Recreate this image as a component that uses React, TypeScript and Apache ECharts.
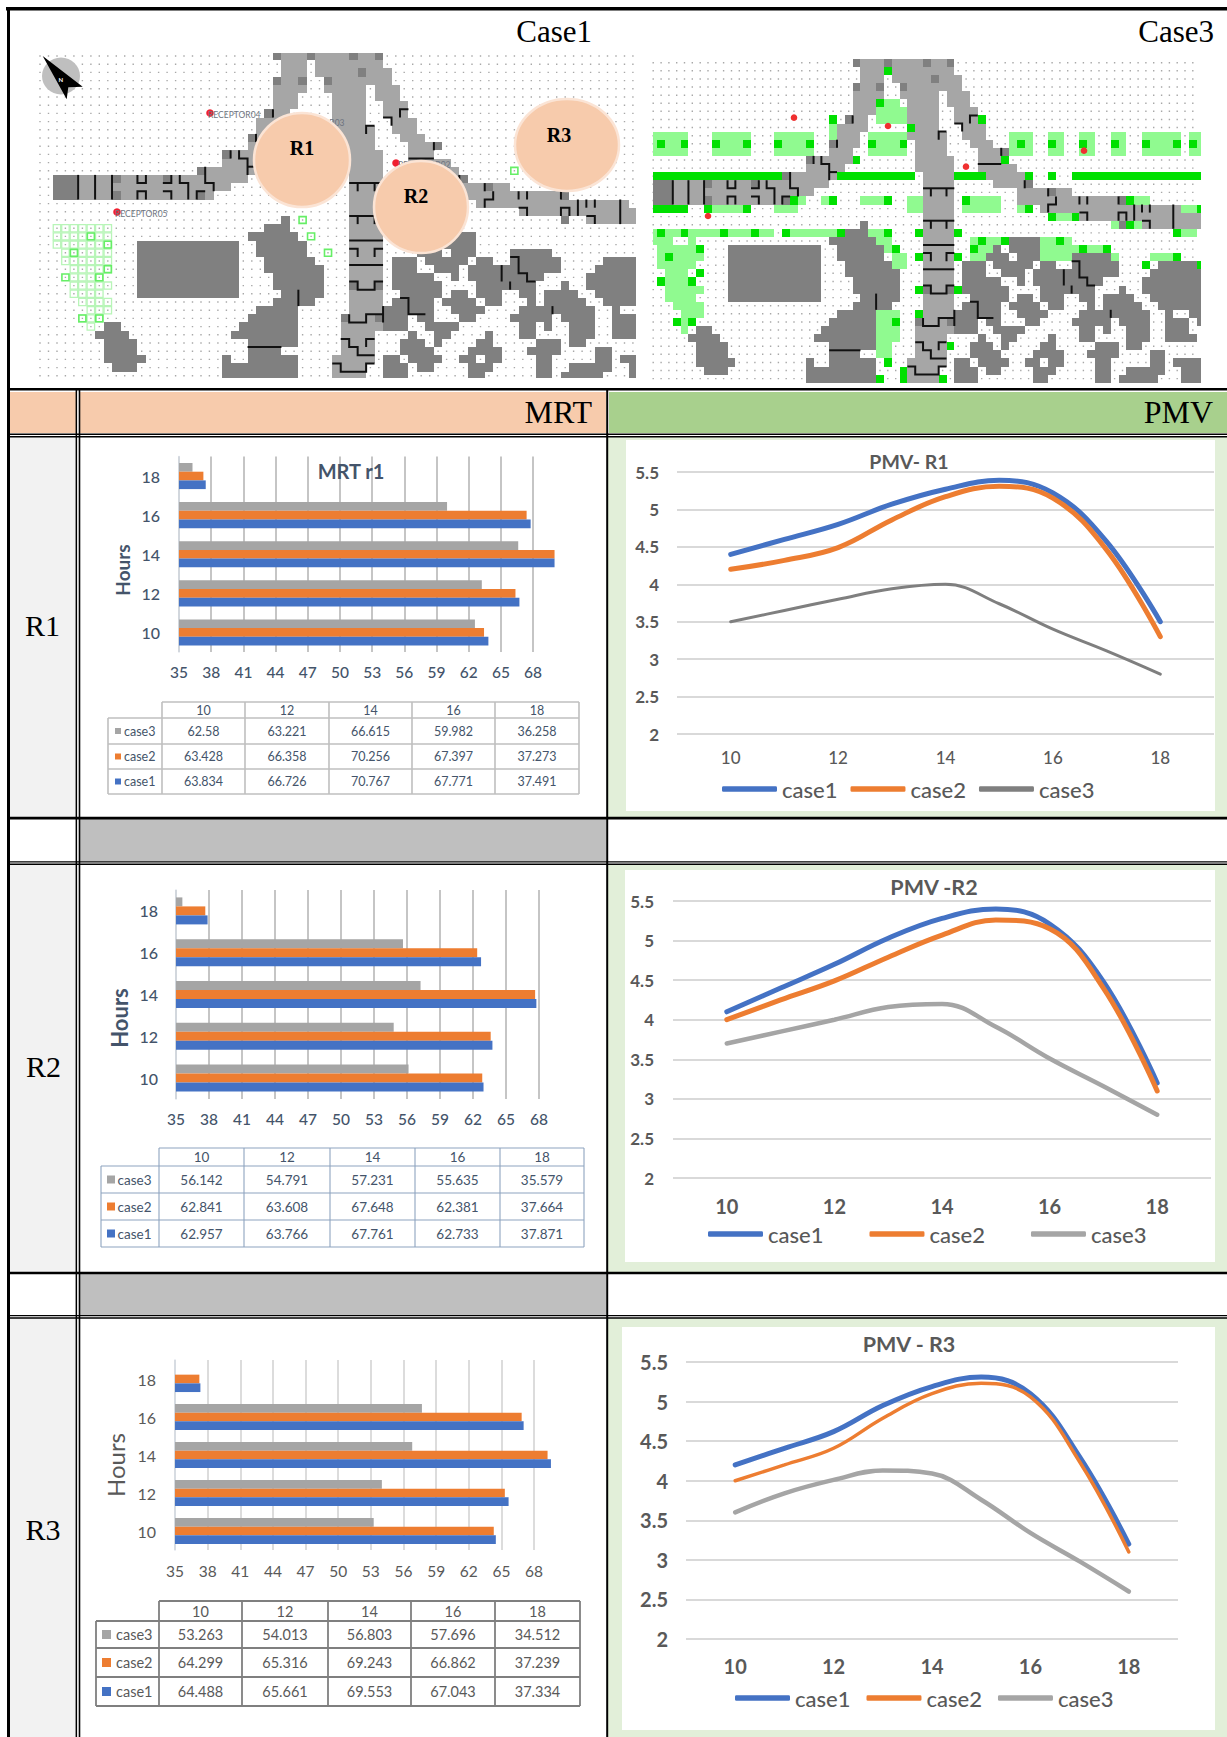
import React, { useEffect, useRef } from "react";
import * as echarts from "echarts";

const W = 1227;
const H = 1737;
const hours = ["10", "12", "14", "16", "18"];
const pmvHours = [10, 11, 12, 13, 14, 15, 16, 17, 18];
const pmvTicks = [10, 12, 14, 16, 18];
const caseNames = ["case1", "case2", "case3"];
const xTicks = [35, 38, 41, 44, 47, 50, 53, 56, 59, 62, 65, 68];

const mrtR1case1 = [63.834, 66.726, 70.767, 67.771, 37.491];
const mrtR1case2 = [63.428, 66.358, 70.256, 67.397, 37.273];
const mrtR1case3 = [62.58, 63.221, 66.615, 59.982, 36.258];
const mrtR2case1 = [62.957, 63.766, 67.761, 62.733, 37.871];
const mrtR2case2 = [62.841, 63.608, 67.648, 62.381, 37.664];
const mrtR2case3 = [56.142, 54.791, 57.231, 55.635, 35.579];
const mrtR3case1 = [64.488, 65.661, 69.553, 67.043, 37.334];
const mrtR3case2 = [64.299, 65.316, 69.243, 66.862, 37.239];
const mrtR3case3 = [53.263, 54.013, 56.803, 57.696, 34.512];

const pmvR1case1 = [4.4, 4.6, 4.8, 5.07, 5.27, 5.39, 5.22, 4.57, 3.5];
const pmvR1case2 = [4.2, 4.32, 4.49, 4.86, 5.17, 5.31, 5.15, 4.46, 3.3];
const pmvR1case3 = [3.5, 3.65, 3.8, 3.94, 4.0, 3.74, 3.4, 3.11, 2.8];
const pmvR2case1 = [4.1, 4.4, 4.7, 5.03, 5.28, 5.4, 5.21, 4.48, 3.2];
const pmvR2case2 = [4.0, 4.25, 4.49, 4.79, 5.07, 5.26, 5.15, 4.4, 3.1];
const pmvR2case3 = [3.7, 3.85, 4.0, 4.16, 4.2, 3.91, 3.51, 3.16, 2.8];
const pmvR3case1 = [4.2, 4.41, 4.62, 4.95, 5.19, 5.31, 5.1, 4.3, 3.2];
const pmvR3case2 = [4.0, 4.2, 4.41, 4.79, 5.1, 5.23, 5.06, 4.24, 3.1];
const pmvR3case3 = [3.6, 3.84, 4.01, 4.13, 4.09, 3.76, 3.34, 2.98, 2.6];

const BLUE = "#4472C4";
const ORANGE = "#ED7D31";
const GREY = "#A5A5A5";
const serif = "'Liberation Serif', serif";
const sans = "Lato, 'Open Sans', sans-serif";

// Base map of the site: per row, inclusive [from, to] column runs
const roadRows: number[][] = [
  [28, 40], [29, 31, 33, 40], [29, 31, 33, 41], [28, 31, 34, 41], [28, 31, 34, 38, 40, 42],
  [28, 30, 35, 38, 40, 42], [28, 30, 35, 38, 41, 43], [27, 29, 35, 38, 41, 43], [26, 29, 35, 38, 42, 44],
  [26, 28, 35, 39, 42, 44], [25, 28, 36, 39, 43, 45], [25, 27, 36, 39, 44, 47], [22, 27, 36, 40, 44, 46],
  [22, 26, 36, 40, 44, 48], [19, 25, 37, 40, 45, 49], [2, 24, 37, 40, 46, 50], [2, 22, 37, 40, 49, 55],
  [2, 20, 37, 40, 49, 62], [37, 40, 52, 69], [37, 40, 57, 72], [37, 40, 65, 72],
  [37, 40], [37, 40], [37, 40], [37, 40], [37, 40], [37, 40], [37, 40], [37, 40], [37, 40], [37, 40], [37, 40],
  [36, 40], [36, 40], [36, 39], [36, 39], [36, 39], [35, 39], [35, 38], [35, 38],
];
const buildingRows: Record<number, number[]> = {
  20: [29, 29],
  21: [27, 29],
  22: [25, 30, 48, 51],
  23: [12, 23, 26, 31, 46, 46, 48, 51],
  24: [12, 23, 26, 31, 45, 47, 49, 51, 56, 60],
  25: [12, 23, 27, 32, 42, 44, 46, 50, 52, 53, 56, 61, 67, 72],
  26: [12, 23, 27, 33, 42, 44, 47, 49, 51, 61, 66, 72],
  27: [12, 23, 28, 33, 42, 46, 49, 49, 51, 59, 65, 72],
  28: [12, 23, 28, 33, 42, 47, 52, 58, 62, 62, 65, 72],
  29: [12, 23, 29, 33, 43, 47, 49, 50, 52, 54, 57, 58, 60, 63, 66, 72],
  30: [28, 32, 42, 46, 48, 51, 53, 54, 58, 58, 60, 64, 67, 72],
  31: [26, 30, 41, 46, 49, 52, 57, 65, 68, 68, 71, 72],
  32: [25, 30, 41, 43, 45, 46, 50, 51, 56, 60, 62, 65, 68, 70, 72, 72],
  33: [8, 9, 24, 30, 41, 43, 46, 49, 57, 58, 60, 60, 63, 65, 68, 70],
  34: [7, 10, 23, 30, 44, 44, 47, 48, 53, 53, 57, 58, 63, 65, 68, 71],
  35: [8, 11, 25, 30, 43, 45, 47, 47, 52, 53, 59, 61, 63, 64],
  36: [8, 11, 25, 28, 43, 46, 51, 54, 58, 61, 66, 67],
  37: [8, 12, 22, 22, 25, 30, 41, 42, 44, 47, 50, 51, 53, 54, 59, 60, 66, 67, 69, 72],
  38: [9, 11, 22, 30, 41, 43, 45, 46, 51, 53, 59, 60, 63, 67, 70, 72],
  39: [22, 30, 41, 43, 51, 52, 59, 60, 62, 66, 70, 72],
};
// [col0, col1, row0, row1]
const darkRects: number[][] = [
  [2, 4, 15, 17], [28, 28, 0, 0], [32, 32, 0, 0], [37, 37, 0, 0], [40, 40, 0, 0], [38, 38, 2, 2], [28, 28, 3, 3],
  [31, 31, 3, 3], [34, 34, 3, 3], [27, 27, 7, 7], [25, 25, 10, 10], [22, 22, 12, 12], [19, 19, 14, 14], [9, 9, 15, 15],
  [15, 15, 15, 15], [9, 9, 17, 17], [19, 19, 17, 17], [47, 47, 11, 11], [50, 50, 15, 15], [53, 53, 16, 16],
  [62, 62, 17, 17], [62, 62, 20, 20], [36, 36, 32, 32], [40, 40, 32, 32], [37, 37, 28, 28], [40, 40, 28, 28],
];
const wallLines: number[][][] = [
  [[5, 15], [5, 18]], [[7, 15], [7, 18]], [[9, 15], [9, 18]], [[12, 15], [12, 16], [13, 16], [13, 15]],
  [[12, 18], [12, 17], [13, 17], [13, 18]], [[16, 15], [16, 16], [15, 16]], [[15, 17], [16, 17], [16, 18]],
  [[17, 15], [17, 16], [18, 16], [18, 18]], [[20, 14], [20, 16], [21, 16], [21, 17]], [[20, 17], [19, 17], [19, 18]],
  [[23, 12], [23, 13]], [[24, 12], [24, 13], [25, 13], [25, 15]], [[25, 14], [26, 14]], [[26, 10], [26, 11]], [[28, 7], [28, 8]],
  [[43, 8], [43, 7], [44, 7]], [[41, 8], [42, 8], [42, 9]], [[40, 9], [39, 9], [39, 10]], [[47, 11], [47, 12]], [[44, 13], [47, 13]],
  [[37, 16], [41, 16]], [[38, 16], [38, 17]], [[40, 16], [40, 17]], [[37, 20], [41, 20]], [[38, 20], [38, 21]], [[40, 20], [40, 21]],
  [[50, 15], [50, 16]], [[53, 16], [53, 17]], [[54, 17], [54, 18], [53, 18], [53, 19]], [[57, 17], [57, 18]], [[58, 17], [58, 18]],
  [[57, 19], [58, 19], [58, 20]], [[62, 17], [62, 18]], [[62, 20], [62, 19], [63, 19], [63, 20]], [[64, 18], [64, 20]],
  [[65, 18], [65, 19]], [[66, 18], [66, 19]], [[65, 20], [66, 20], [66, 21]], [[69, 18], [69, 21]],
  [[37, 23], [41, 23]], [[37, 24], [38, 24], [38, 25]], [[41, 24], [40, 24], [40, 25]], [[37, 26], [41, 26]],
  [[37, 28], [38, 28], [38, 29], [40, 29], [40, 28], [41, 28]], [[41, 31], [41, 33]], [[37, 32], [37, 33], [39, 33], [39, 32], [41, 32]],
  [[36, 35], [37, 35], [37, 36], [38, 36], [38, 37], [40, 37]], [[40, 35], [39, 35], [39, 36]],
  [[35, 38], [36, 38], [36, 39], [39, 39], [39, 38], [40, 38]], [[43, 30], [44, 30], [44, 32], [46, 32]],
  [[56, 25], [57, 25], [57, 27], [58, 27], [58, 28], [59, 28]], [[55, 26], [55, 28]], [[56, 28], [56, 29]], [[61, 31], [61, 32]],
  [[31, 29], [31, 31]], [[25, 36], [29, 36]],
];
// Case 1 planting: light outline cells per row [row, col0, col1]
const case1Outline: number[][] = [
  [21, 2, 8], [22, 2, 8], [23, 2, 8], [24, 3, 8], [25, 3, 8], [26, 4, 8], [27, 4, 7], [28, 4, 8], [29, 4, 7], [30, 5, 8], [31, 6, 8], [32, 5, 7], [33, 6, 6],
];
const case1Strong: number[][] = [
  [6, 22], [8, 23], [4, 24], [8, 26], [3, 27], [7, 27], [5, 32], [7, 32], [31, 20], [32, 22], [34, 24], [56, 14],
];
// Case 3 planting: [col0, col1, row0, row1]
const case3Light: number[][] = [
  [2, 6, 9, 11], [10, 14, 9, 11], [18, 22, 9, 11], [30, 34, 9, 11], [48, 50, 9, 11], [53, 54, 9, 11], [57, 58, 9, 11], [61, 62, 9, 11], [65, 69, 9, 11], [71, 72, 9, 11],
  [32, 33, 5, 5], [31, 34, 6, 7], [25, 25, 8, 10], [21, 21, 17, 17], [24, 25, 17, 17], [29, 32, 17, 17], [35, 36, 17, 18], [42, 46, 17, 18], [49, 49, 18, 18], [10, 13, 18, 18],
  [18, 20, 18, 18], [54, 55, 19, 19], [61, 65, 20, 20], [63, 65, 17, 17], [70, 72, 18, 18], [2, 17, 21, 21], [19, 25, 21, 21], [30, 32, 21, 21], [70, 71, 21, 21],
  [2, 4, 22, 22], [7, 7, 22, 22], [31, 32, 22, 22], [3, 8, 23, 24], [32, 33, 23, 23], [33, 34, 24, 25], [3, 7, 25, 25], [4, 6, 26, 27], [4, 8, 28, 28], [4, 7, 29, 29], [5, 8, 30, 30], [6, 8, 31, 31], [6, 6, 32, 33],
  [31, 33, 31, 34], [31, 32, 35, 36], [43, 47, 22, 22], [43, 45, 23, 23], [43, 44, 24, 24], [52, 55, 22, 22], [52, 60, 23, 23], [52, 55, 24, 24], [61, 61, 24, 24], [66, 69, 24, 24], [71, 72, 25, 26],
];
const case3Bright: number[][] = [
  [3, 3, 10, 10], [6, 6, 10, 10], [10, 10, 10, 10], [14, 14, 10, 10], [18, 18, 10, 10], [22, 22, 10, 10], [30, 30, 10, 10], [34, 34, 10, 10], [49, 49, 10, 10], [53, 53, 10, 10], [57, 57, 10, 10], [61, 61, 10, 10], [65, 65, 10, 10], [69, 69, 10, 10], [71, 71, 10, 10],
  [32, 32, 1, 1], [31, 31, 5, 5], [25, 25, 7, 7], [35, 35, 8, 8], [44, 44, 7, 7], [28, 28, 12, 12], [47, 47, 12, 12],
  [2, 18, 14, 14], [26, 35, 14, 14], [41, 44, 14, 14], [50, 50, 14, 14], [53, 53, 14, 14], [56, 72, 14, 14],
  [20, 20, 17, 17], [25, 25, 17, 17], [32, 32, 17, 17], [42, 42, 17, 17], [63, 63, 17, 17], [2, 6, 18, 18], [9, 9, 18, 18], [14, 14, 18, 18], [50, 50, 18, 18], [72, 72, 18, 18], [53, 53, 19, 19], [56, 56, 19, 19], [63, 63, 20, 20],
  [3, 3, 21, 21], [6, 6, 21, 21], [11, 11, 21, 21], [15, 15, 21, 21], [19, 19, 21, 21], [26, 26, 21, 21], [32, 32, 21, 21], [36, 36, 21, 21], [41, 41, 21, 21], [69, 69, 21, 21],
  [44, 44, 22, 22], [47, 47, 22, 22], [54, 54, 22, 22], [8, 8, 23, 23], [33, 33, 23, 23], [43, 43, 23, 23], [57, 57, 23, 23], [60, 60, 23, 23], [4, 4, 24, 24], [36, 36, 24, 24], [41, 41, 24, 24], [69, 69, 24, 24], [65, 65, 25, 25], [72, 72, 25, 25],
  [8, 8, 26, 26], [3, 3, 27, 27], [7, 7, 27, 27], [36, 36, 28, 28], [41, 41, 28, 28], [36, 36, 31, 31], [5, 5, 32, 32], [7, 7, 32, 32], [33, 33, 32, 32], [40, 40, 35, 35], [32, 32, 37, 37], [34, 34, 38, 39], [31, 31, 39, 39], [39, 39, 39, 39],
];
const case1Markers = [[210, 113], [117, 212], [396, 163], [300, 122]];
const case3Markers = [[794, 117.7], [888, 126], [966, 166.7], [1084, 150.7], [708, 216]];
const case1Receptors = [
  { text: "RECEPTOR04", x: 208, y: 115 },
  { text: "RECEPTOR05", x: 115, y: 214 },
  { text: "RECEPTOR02", x: 398, y: 165 },
  { text: "RECEPTOR03", x: 292, y: 123 },
];
const zones = [
  { text: "R1", cx: 302, cy: 160, rx: 48, ry: 47, tx: 302, ty: 148 },
  { text: "R2", cx: 421, cy: 207, rx: 47, ry: 46, tx: 416, ty: 196 },
  { text: "R3", cx: 567, cy: 145, rx: 52, ry: 46, tx: 559, ty: 135 },
];

type View = { x0: number; y0: number; cw: number; ch: number; minX: number; maxX: number; minY: number; maxY: number };
const viewCase1: View = { x0: 35.8, y0: 51.9, cw: 8.47, ch: 8.2, minX: 36, maxX: 636, minY: 53, maxY: 378 };
const viewCase3: View = { x0: 633.7, y0: 58.7, cw: 7.82, ch: 8.1, minX: 653, maxX: 1201, minY: 57.3, maxY: 384.3 };

const Z_BG = -30;
function rect(x: number, y: number, w: number, h: number, fill: string, z = Z_BG) {
  return { type: "rect", silent: true, z, shape: { x, y, width: w, height: h }, style: { fill } };
}
function text(t: string, x: number, y: number, font: string, fill: string, align = "center", rotation = 0, z = Z_BG + 12) {
  return {
    type: "text", silent: true, z, x, y, rotation,
    style: { text: t, font, fill, align, verticalAlign: "middle", textAlign: align, textVerticalAlign: "middle" },
  };
}
function cellRect(v: View, c0: number, c1: number, r0: number, r1: number, fill: string, z: number) {
  const x0 = Math.round(Math.max(v.x0 + c0 * v.cw, v.minX));
  const x1 = Math.round(Math.min(v.x0 + (c1 + 1) * v.cw, v.maxX));
  const y0 = Math.round(Math.max(v.y0 + r0 * v.ch, v.minY));
  const y1 = Math.round(Math.min(v.y0 + (r1 + 1) * v.ch, v.maxY));
  if (x1 <= x0 || y1 <= y0) return null;
  return rect(x0, y0, x1 - x0, y1 - y0, fill, z);
}

function dotsPath(v: View) {
  let d = "";
  for (let r = 0; r < 40; r++) {
    for (let c = 0; c < 74; c++) {
      const x = v.x0 + (c + 0.5) * v.cw;
      const y = v.y0 + (r + 0.5) * v.ch;
      if (x < v.minX || x > v.maxX - 0.5 || y < v.minY || y > v.maxY) continue;
      d += `M${(x - 0.7).toFixed(1)} ${(y - 0.7).toFixed(1)}h1.4v1.4h-1.4z`;
    }
  }
  return d;
}

function mapLayer(v: View, name: string) {
  const out: any[] = [];
  echarts.graphic.registerShape(name, echarts.graphic.extendPath(dotsPath(v), {}));
  out.push({ type: name, silent: true, z: Z_BG + 2, style: { fill: "#A8A8A8" } });
  const add = (e: any) => { if (e) out.push(e); };
  if (v === viewCase3) case3Light.forEach(([a, b, c, d]) => add(cellRect(v, a, b, c, d, "#90FA90", Z_BG + 3)));
  roadRows.forEach((runs, r) => {
    for (let i = 0; i < runs.length; i += 2) add(cellRect(v, runs[i], runs[i + 1], r, r, "#A6A6A6", Z_BG + 4));
  });
  darkRects.forEach(([a, b, c, d]) => add(cellRect(v, a, b, c, d, "#808080", Z_BG + 5)));
  Object.keys(buildingRows).forEach((k) => {
    const r = Number(k);
    const runs = buildingRows[r];
    for (let i = 0; i < runs.length; i += 2) add(cellRect(v, runs[i], runs[i + 1], r, r, "#808080", Z_BG + 5));
  });
  if (v === viewCase3) case3Bright.forEach(([a, b, c, d]) => add(cellRect(v, a, b, c, d, "#00E000", Z_BG + 6)));
  wallLines.forEach((pts) => {
    if (pts.some(([c]) => v.x0 + c * v.cw < v.minX || v.x0 + c * v.cw > v.maxX)) return;
    out.push({
      type: "polyline", silent: true, z: Z_BG + 7,
      shape: { points: pts.map(([c, r]) => [v.x0 + c * v.cw, v.y0 + r * v.ch]) },
      style: { stroke: "#111111", lineWidth: 2, fill: null },
    });
  });
  return out;
}

function case1Overlays() {
  const v = viewCase1;
  const out: any[] = [];
  case1Outline.forEach(([r, a, b]) => {
    for (let c = a; c <= b; c++) {
      out.push({
        type: "rect", silent: true, z: Z_BG + 3,
        shape: { x: v.x0 + c * v.cw + 0.5, y: v.y0 + r * v.ch + 0.5, width: v.cw - 1, height: v.ch - 1 },
        style: { fill: "rgba(255,255,255,0)", stroke: "#B8F5B8", lineWidth: 1.3 },
      });
    }
  });
  case1Strong.forEach(([c, r]) => {
    out.push({
      type: "rect", silent: true, z: Z_BG + 6,
      shape: { x: v.x0 + c * v.cw + 0.7, y: v.y0 + r * v.ch + 0.7, width: v.cw - 1.4, height: v.ch - 1.4 },
      style: { fill: "rgba(255,255,255,0)", stroke: "#66EE66", lineWidth: 1.6 },
    });
  });
  case1Markers.forEach(([x, y]) => out.push({ type: "circle", silent: true, z: Z_BG + 7, shape: { cx: x, cy: y, r: 3.8 }, style: { fill: "#F02030" } }));
  case1Receptors.forEach((p) => out.push(text(p.text, p.x, p.y, `8.5px ${sans}`, "#6E7480", "left", 0, Z_BG + 8)));
  zones.forEach((zn) => {
    out.push({ type: "ellipse", silent: true, z: Z_BG + 9, shape: { cx: zn.cx, cy: zn.cy, rx: zn.rx, ry: zn.ry }, style: { fill: "#F7CBAC", stroke: "#FBE4D5", lineWidth: 2.5 } });
    out.push(text(zn.text, zn.tx, zn.ty, `bold 20px ${serif}`, "#000000", "center", 0, Z_BG + 10));
  });
  out.push({ type: "ellipse", silent: true, z: Z_BG + 8, shape: { cx: 61, cy: 76, rx: 19, ry: 18.5 }, style: { fill: "#BFBFBF" } });
  out.push({
    type: "polygon", silent: true, z: Z_BG + 9,
    shape: { points: [[42.7, 56], [82.7, 86.7], [68.3, 87.3], [66.7, 99.3]] }, style: { fill: "#000000" },
  });
  out.push(text("N", 60.7, 79, `bold 6px ${sans}`, "#FFFFFF", "center", 0, Z_BG + 10));
  return out;
}
function case3Overlays() {
  return case3Markers.map(([x, y]) => ({ type: "circle", silent: true, z: Z_BG + 8, shape: { cx: x, cy: y, r: 3.3 }, style: { fill: "#F03030" } }));
}

function frame() {
  const out: any[] = [];
  const k = "#000000";
  // fills
  out.push(rect(10, 392, 66, 41, "#F7CBAC"), rect(80, 392, 526, 41, "#F7CBAC"), rect(609, 392, 618, 41, "#A8D08D"));
  [[437, 817], [865, 1272], [1318, 1737]].forEach(([a, b]) => out.push(rect(10, a, 66, b - a, "#F2F2F2")));
  out.push(rect(80, 819, 526, 42, "#BFBFBF"), rect(80, 1274, 526, 41, "#BFBFBF"));
  // right-hand panels
  [[437, 817, 626, 440, 589, 371], [865, 1272, 625, 870, 590, 392], [1318, 1737, 622, 1327, 593, 403]].forEach(([a, b, x, y, w, h]) => {
    out.push(rect(608, a, W - 608, b - a, "#E2EFD9"), rect(x, y, w, h, "#FFFFFF", Z_BG + 1));
  });
  // rules
  const L = Z_BG + 11;
  out.push(rect(6, 7, W - 6, 3.5, k, L), rect(7, 7, 3, H - 7, k, L));
  out.push(rect(7, 388, W - 7, 2.6, k, L));
  out.push(rect(7, 433.5, W - 7, 1.5, k, L), rect(7, 436, W - 7, 1.5, k, L));
  out.push(rect(7, 816.8, W - 7, 2.6, k, L));
  out.push(rect(7, 861.2, W - 7, 1.3, k, L), rect(7, 863.5, W - 7, 1.5, k, L));
  out.push(rect(7, 1271.8, W - 7, 2.4, k, L));
  out.push(rect(7, 1315, W - 7, 1.3, k, L), rect(7, 1317.2, W - 7, 1.5, k, L));
  out.push(rect(75.6, 388, 1.5, H - 388, k, L), rect(78.7, 388, 1.6, H - 388, k, L));
  out.push(rect(606.2, 388, 2, H - 388, k, L));
  // headings
  out.push(text("Case1", 592, 31, `31px ${serif}`, "#000", "right"), text("Case3", 1214, 31, `31px ${serif}`, "#000", "right"));
  out.push(text("MRT", 592, 412, `32px ${serif}`, "#000", "right"), text("PMV", 1213, 412, `32px ${serif}`, "#000", "right"));
  out.push(text("R1", 42.5, 625, `30px ${serif}`, "#000"), text("R2", 43.5, 1066, `30px ${serif}`, "#000"), text("R3", 43, 1529, `30px ${serif}`, "#000"));
  return out;
}

type Tbl = {
  xs: number[]; ys: number[]; color: string; lw: number; font: string; tc: string;
  left: number; iconX: number; iconS: number; labelX: number; vals: number[][];
};
const tableR1: Tbl = { xs: [162, 245, 329, 412, 495, 579], ys: [702, 718, 744, 769, 794], color: "#BFBFBF", lw: 1.6, font: `12.5px ${sans}`, tc: "#44546A", left: 108, iconX: 115, iconS: 6, labelX: 124, vals: [mrtR1case3, mrtR1case2, mrtR1case1] };
const tableR2: Tbl = { xs: [159, 244, 330, 415, 500, 584], ys: [1148, 1166, 1193, 1220, 1247], color: "#8EA4BF", lw: 1.1, font: `13.5px ${sans}`, tc: "#44546A", left: 101, iconX: 107, iconS: 8, labelX: 117.5, vals: [mrtR2case3, mrtR2case2, mrtR2case1] };
const tableR3: Tbl = { xs: [159, 242, 328, 411, 495, 580], ys: [1601, 1621, 1648, 1677, 1706], color: "#7F7F7F", lw: 1.8, font: `14.5px ${sans}`, tc: "#595959", left: 96, iconX: 102, iconS: 9, labelX: 116, vals: [mrtR3case3, mrtR3case2, mrtR3case1] };

function dataTable(t: Tbl) {
  const out: any[] = [];
  const z = Z_BG + 12;
  const line = (x1: number, y1: number, x2: number, y2: number) =>
    out.push({ type: "line", silent: true, z, shape: { x1, y1, x2, y2 }, style: { stroke: t.color, lineWidth: t.lw } });
  const last = t.xs[t.xs.length - 1];
  t.ys.forEach((y, i) => line(i === 0 ? t.xs[0] : t.left, y, last, y));
  t.xs.forEach((x) => line(x, t.ys[0], x, t.ys[t.ys.length - 1]));
  line(t.left, t.ys[1], t.left, t.ys[t.ys.length - 1]);
  hours.forEach((h, i) => out.push(text(h, (t.xs[i] + t.xs[i + 1]) / 2, (t.ys[0] + t.ys[1]) / 2, t.font, t.tc)));
  const colors = [GREY, ORANGE, BLUE];
  const names = [caseNames[2], caseNames[1], caseNames[0]];
  t.vals.forEach((row, r) => {
    const y = (t.ys[r + 1] + t.ys[r + 2]) / 2;
    out.push(rect(t.iconX, y - t.iconS / 2, t.iconS, t.iconS, colors[r], z));
    out.push(text(names[r], t.labelX, y, t.font, t.tc, "left"));
    row.forEach((v, i) => out.push(text(String(v), (t.xs[i] + t.xs[i + 1]) / 2, y, t.font, t.tc)));
  });
  return out;
}

type BarCfg = { left: number; unit: number; top: number; bottom: number; values: number[][]; barW: number; grid: string; gridW: number; tc: string; fs: number; weight: string; margin: number; lm: number };
const barCfgs: BarCfg[] = [
  { left: 179, unit: 10.73, top: 456.5, bottom: 652, values: [mrtR1case1, mrtR1case2, mrtR1case3], barW: 8.7, grid: "#BFBFBF", gridW: 1.8, tc: "#44546A", fs: 16, weight: "500", margin: 12, lm: 19 },
  { left: 176, unit: 11, top: 890, bottom: 1099, values: [mrtR2case1, mrtR2case2, mrtR2case3], barW: 9, grid: "#BFBFBF", gridW: 1.8, tc: "#44546A", fs: 16, weight: "500", margin: 12, lm: 18 },
  { left: 175, unit: 10.88, top: 1360, bottom: 1550, values: [mrtR3case1, mrtR3case2, mrtR3case3], barW: 8.7, grid: "#D9D9D9", gridW: 1.8, tc: "#595959", fs: 16, weight: "400", margin: 13, lm: 19 },
];
type LineCfg = {
  left: number; right: number; top: number; bottom: number; values: number[][]; widths: number[]; gray: string;
  fs: number; xfs: number; xm: number; ym: number; lLeft: number; lY: number; lGap: number;
};
const lineCfgs: LineCfg[] = [
  { left: 677, right: 1214, top: 472, bottom: 734, values: [pmvR1case1, pmvR1case2, pmvR1case3], widths: [5, 5, 3], gray: "#7F7F7F", fs: 17, xfs: 17, xm: 15, ym: 18, lLeft: 722, lY: 789, lGap: 13 },
  { left: 673, right: 1211, top: 901, bottom: 1178, values: [pmvR2case1, pmvR2case2, pmvR2case3], widths: [5, 5, 4.5], gray: "#A5A5A5", fs: 17, xfs: 20, xm: 18, ym: 19, lLeft: 708, lY: 1234, lGap: 46 },
  { left: 686, right: 1178, top: 1362, bottom: 1639, values: [pmvR3case1, pmvR3case2, pmvR3case3], widths: [5, 3.5, 4.5], gray: "#A5A5A5", fs: 20, xfs: 20, xm: 17, ym: 18, lLeft: 735, lY: 1698, lGap: 16 },
];
const titles = [
  { text: "MRT r1", x: 346, y: 466, fs: 20, c: "#44546A" },
  { text: "PMV- R1", x: 904, y: 456, fs: 19.5, c: "#595959" },
  { text: "PMV -R2", x: 929, y: 882, fs: 21.5, c: "#595959" },
  { text: "PMV - R3", x: 904, y: 1339, fs: 21.5, c: "#595959" },
];
const hoursLabels = [
  { x: 122, y: 570, font: `bold 19px ${sans}`, c: "#44546A" },
  { x: 119, y: 1018, font: `bold 22px ${sans}`, c: "#44546A" },
  { x: 115, y: 1465, font: `24px ${sans}`, c: "#595959" },
];

function buildOption() {
  const grid: any[] = [];
  const xAxis: any[] = [];
  const yAxis: any[] = [];
  const series: any[] = [];
  const colors = [BLUE, ORANGE, GREY];
  const noTip = { silent: true };

  barCfgs.forEach((b, i) => {
    grid.push({ left: b.left, width: b.unit * 35, top: b.top, height: b.bottom - b.top });
    xAxis.push({
      type: "value", gridIndex: i, min: 35, max: 70,
      axisLine: { show: false }, axisTick: { show: false, customValues: xTicks },
      axisLabel: { customValues: xTicks, color: b.tc, fontSize: b.fs - 0.5, fontFamily: sans, fontWeight: b.weight, margin: b.margin },
      splitLine: { show: true, lineStyle: { color: b.grid, width: b.gridW } },
    });
    yAxis.push({
      type: "category", gridIndex: i, data: hours,
      axisLine: { show: true, lineStyle: { color: "#D6DCE5", width: 1.5 } }, axisTick: { show: false },
      axisLabel: { color: b.tc, fontSize: b.fs, fontFamily: sans, fontWeight: b.weight, margin: b.lm, padding: [0, 0, 3, 0] },
      splitLine: { show: false },
    });
    // ECharts stacks the first series of a horizontal group on top: case3 goes first.
    [2, 1, 0].forEach((s) => {
      series.push({
        ...noTip, type: "bar", name: caseNames[s], xAxisIndex: i, yAxisIndex: i, data: b.values[s],
        barWidth: b.barW, barGap: "0%", itemStyle: { color: colors[s] },
      });
    });
  });
  lineCfgs.forEach((l, j) => {
    const i = j + barCfgs.length;
    grid.push({ left: l.left, width: l.right - l.left, top: l.top, height: l.bottom - l.top });
    xAxis.push({
      type: "value", gridIndex: i, min: 9, max: 19, interval: 1,
      axisLine: { show: false }, axisTick: { show: false }, splitLine: { show: false },
      axisLabel: { customValues: pmvTicks, color: "#595959", fontSize: l.xfs, fontFamily: sans, fontWeight: j === 0 ? "500" : "700", margin: l.xm },
    });
    yAxis.push({
      type: "value", gridIndex: i, min: 2, max: 5.5, interval: 0.5,
      axisLine: { show: false }, axisTick: { show: false },
      axisLabel: { color: "#595959", fontSize: l.fs, fontFamily: sans, fontWeight: "700", margin: l.ym },
      splitLine: { show: true, lineStyle: { color: "#D9D9D9", width: 2 } },
    });
    l.values.forEach((vals, s) => {
      series.push({
        ...noTip, type: "line", name: caseNames[s], xAxisIndex: i, yAxisIndex: i,
        data: vals.map((v, k) => [pmvHours[k], v]), smooth: 0.4, symbol: "none",
        lineStyle: { color: s === 2 ? l.gray : colors[s], width: l.widths[s], cap: "round" },
        itemStyle: { color: s === 2 ? l.gray : colors[s] },
      });
    });
  });

  const legend = lineCfgs.map((l) => ({
    left: l.lLeft, top: l.lY - 11, padding: 0, selectedMode: false, icon: "roundRect", itemWidth: 55, itemHeight: 5.5, itemGap: l.lGap,
    textStyle: { color: "#595959", fontSize: 22, fontFamily: sans, fontWeight: "500" },
    data: caseNames.map((n, s) => ({ name: n, itemStyle: { color: s === 2 ? l.gray : colors[s] } })),
  }));

  const title = titles.map((t) => ({
    text: t.text, left: t.x, top: t.y, textAlign: "center", textVerticalAlign: "middle",
    textStyle: { color: t.c, fontSize: t.fs, fontWeight: "bold", fontFamily: sans },
  }));

  const elements: any[] = [
    ...frame(),
    ...mapLayer(viewCase1, "dotsCase1"),
    ...case1Overlays(),
    ...mapLayer(viewCase3, "dotsCase3"),
    ...case3Overlays(),
    ...dataTable(tableR1),
    ...dataTable(tableR2),
    ...dataTable(tableR3),
    ...hoursLabels.map((h) => text("Hours", h.x, h.y, h.font, h.c, "center", Math.PI / 2)),
  ];

  return { animation: false, backgroundColor: "#FFFFFF", title, legend, grid, xAxis, yAxis, series, graphic: { elements } };
}

export default function App() {
  const ref = useRef<HTMLDivElement>(null);
  useEffect(() => {
    if (!ref.current) return;
    const chart = echarts.init(ref.current, undefined, { renderer: "svg" });
    chart.setOption(buildOption() as any);
    return () => chart.dispose();
  }, []);
  return <div ref={ref} style={{ position: "absolute", left: 0, top: 0, width: W, height: H }} />;
}
